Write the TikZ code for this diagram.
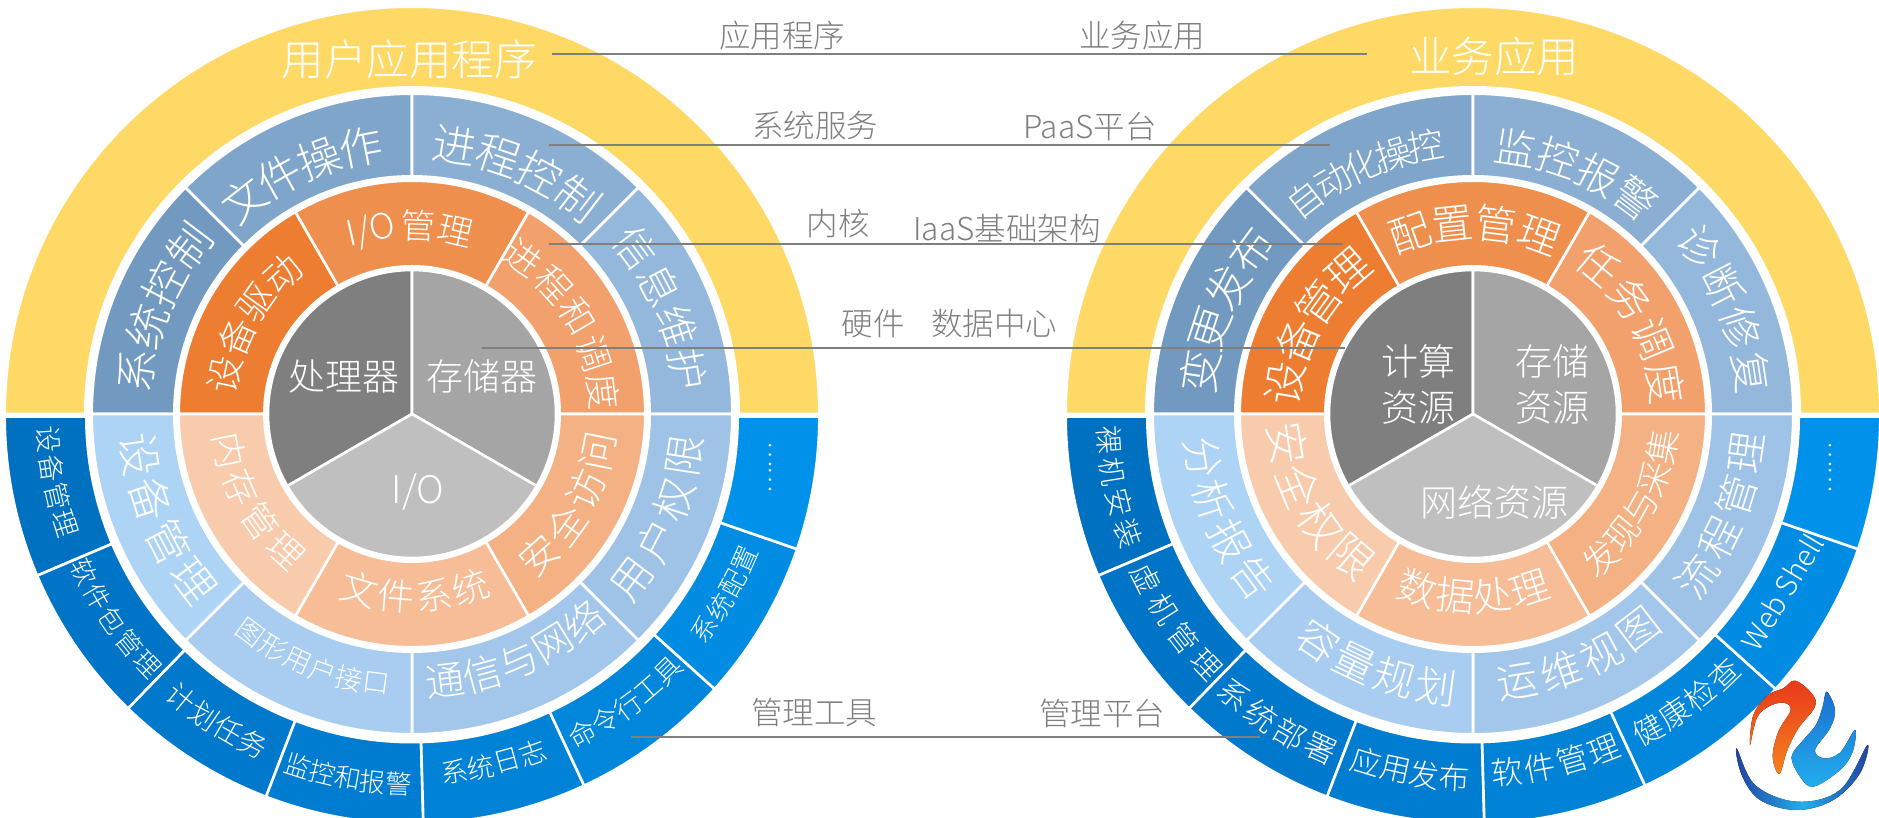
\documentclass[tikz,border=0pt]{standalone}
\usepackage{fontspec}
\IfFontExistsTF{Noto Sans CJK SC Light}{\setmainfont{Noto Sans CJK SC Light}}{\setmainfont{Noto Sans CJK SC}}
\definecolor{cyel}{HTML}{FFD966}
\definecolor{cgray}{HTML}{7F7F7F}
\newcount\chcnt
\tikzset{
  segfill/.style={line width=2.6pt,draw=white,line join=round},
  chnode/.style={text=white,inner sep=0pt,anchor=center},
  flat/.style={text=white,inner sep=0pt,anchor=center},
  graylab/.style={text=cgray,inner sep=0pt,anchor=center,font=\fontsize{31.5}{32}\selectfont},
  bar/.style={draw=cgray,line width=2.6pt}
}
% sector: colour, a1, a2, r1, r2 (visible radii)
\newcommand\wedgeseg[5]{%
  \pgfmathsetmacro\ro{#5+1.3}\pgfmathsetmacro\ri{#4-1.3}%
  \path[segfill,fill=#1] (#2:\ro pt) arc[start angle=#2,end angle=#3,radius=\ro pt]
    -- (#3:\ri pt) arc[start angle=#3,end angle=#2,radius=\ri pt] -- cycle;}
\newcommand\coreseg[3]{%
  \path[segfill,fill=#1] (0,0) -- (#2:144pt) arc[start angle=#2,end angle=#3,radius=144pt] -- cycle;}
% text following the arc: mid angle, step, radius, size, count, characters
\newcommand\arctop[6]{%
  \pgfmathsetmacro\fs{#4*1.09}%
  \foreach \c [count=\i] in {#6}{%
    \pgfmathsetmacro\a{#1-(\i-(#5+1)/2)*#2}\pgfmathsetmacro\b{\a-90}%
    \global\advance\chcnt by 1
    \node[chnode,rotate=\b,name=ch\the\chcnt] at (\a:#3pt) {\fontsize{\fs}{\fs}\selectfont\c};}}
\newcommand\arcbot[6]{%
  \pgfmathsetmacro\fs{#4*1.09}%
  \foreach \c [count=\i] in {#6}{%
    \pgfmathsetmacro\a{#1+(\i-(#5+1)/2)*#2}\pgfmathsetmacro\b{\a+90}%
    \global\advance\chcnt by 1
    \node[chnode,rotate=\b,name=ch\the\chcnt] at (\a:#3pt) {\fontsize{\fs}{\fs}\selectfont\c};}}
\newcommand\drawrings{%
  \wedgeseg{cyel}{180}{0}{328}{406}
  \wedgeseg{cB1}{180}{135}{239}{319}
  \wedgeseg{cB2}{135}{90}{239}{319}
  \wedgeseg{cB3}{90}{45}{239}{319}
  \wedgeseg{cB4}{45}{0}{239}{319}
  \wedgeseg{cB5}{0}{-45}{239}{319}
  \wedgeseg{cB6}{-45}{-90}{239}{319}
  \wedgeseg{cB7}{-90}{-135}{239}{319}
  \wedgeseg{cB8}{-135}{-180}{239}{319}
  \wedgeseg{cO1}{180}{120}{149}{232}
  \wedgeseg{cO2}{120}{60}{149}{232}
  \wedgeseg{cO3}{60}{0}{149}{232}
  \wedgeseg{cO4}{0}{-60}{149}{232}
  \wedgeseg{cO5}{-60}{-120}{149}{232}
  \wedgeseg{cO6}{-120}{-180}{149}{232}
  \coreseg{cgray}{90}{210}
  \coreseg{cC2}{-30}{90}
  \coreseg{cC3}{210}{330}
  \begin{scope}[yshift=-2.5pt]
  \wedgeseg{cD1}{180}{203}{327}{406}
  \wedgeseg{cD2}{203}{225.8}{327}{406}
  \wedgeseg{cD3}{225.8}{249}{327}{406}
  \wedgeseg{cD4}{249}{271.6}{327}{406}
  \wedgeseg{cD5}{271.6}{295}{327}{406}
  \wedgeseg{cD6}{295}{318}{327}{406}
  \wedgeseg{cD7}{318}{341}{327}{406}
  \wedgeseg{cD8}{341}{360}{327}{406}
  \end{scope}}
\definecolor{cB1}{HTML}{7299BF}\definecolor{cB2}{HTML}{7FA6CA}
\definecolor{cB3}{HTML}{8AAFD3}\definecolor{cB4}{HTML}{94B8DC}
\definecolor{cB5}{HTML}{9FC3E6}\definecolor{cB6}{HTML}{A3C7EA}
\definecolor{cB7}{HTML}{A8CDF0}\definecolor{cB8}{HTML}{ADD3F5}
\definecolor{cO1}{HTML}{ED7D31}\definecolor{cO2}{HTML}{EF8F4E}
\definecolor{cO3}{HTML}{F2A16D}\definecolor{cO4}{HTML}{F4B183}
\definecolor{cO5}{HTML}{F6BD97}\definecolor{cO6}{HTML}{F8CBAD}
\definecolor{cC2}{HTML}{A5A5A5}\definecolor{cC3}{HTML}{BFBFBF}
\definecolor{cD1}{HTML}{0070C0}\definecolor{cD2}{HTML}{0074C6}
\definecolor{cD3}{HTML}{0078CB}\definecolor{cD4}{HTML}{007DD1}
\definecolor{cD5}{HTML}{0082D6}\definecolor{cD6}{HTML}{0087DC}
\definecolor{cD7}{HTML}{008CE3}\definecolor{cD8}{HTML}{0092EA}
\definecolor{lgA}{HTML}{E8391A}\definecolor{lgB}{HTML}{F5841F}
\definecolor{lgC}{HTML}{1B6FCF}\definecolor{lgD}{HTML}{22AEEE}\definecolor{lgE}{HTML}{23409F}
\begin{document}
\begin{tikzpicture}[x=1pt,y=1pt]
\useasboundingbox (0,0) rectangle (1879,-818);
% ---------- left chart
\begin{scope}[shift={(412,-414)}]
  \drawrings
  \arctop{157}{9.4}{279}{40}{4}{系,统,控,制}
  \arctop{114.5}{9.1}{272}{40}{4}{文,件,操,作}
  \arctop{66.7}{9.5}{272}{40}{4}{进,程,控,制}
  \arctop{22.9}{9.2}{279}{38}{4}{信,息,维,护}
  \arcbot{-22.75}{9.4}{276}{38}{4}{用,户,权,限}
  \arcbot{-66.6}{8.2}{269}{36}{5}{通,信,与,网,络}
  \arcbot{248}{5.76}{272}{25}{6}{图,形,用,户,接,口}
  \arcbot{202.9}{9.6}{275}{40}{4}{设,备,管,理}
  \arctop{150.4}{11.8}{191}{34}{4}{设,备,驱,动}
  \node[chnode,rotate=12.6,name=lio] at (102.6:188pt) {\fontsize{35}{35}\selectfont I/O};
  \arctop{82.4}{11.3}{188.5}{32}{2}{管,理}
  \arctop{30.5}{12}{192}{33}{5}{进,程,和,调,度}
  \arcbot{-29.7}{12.2}{190}{36}{4}{安,全,访,问}
  \arcbot{-89}{11.8}{183}{34}{4}{文,件,系,统}
  \arcbot{209.2}{12}{186}{33}{4}{内,存,管,理}
  \arcbot{190.8}{4.5}{364}{25}{4}{设,备,管,理}
  \arcbot{214.6}{4.4}{364}{24}{5}{软,件,包,管,理}
  \arcbot{237.6}{4.4}{366}{26}{4}{计,划,任,务}
  \arcbot{260}{3.95}{370}{24}{5}{监,控,和,报,警}
  \arcbot{-76.8}{4.3}{360}{25}{4}{系,统,日,志}
  \arcbot{-53.5}{4.2}{363}{25}{5}{命,令,行,工,具}
  \arcbot{-30}{4.2}{363}{24}{4}{系,统,配,置}
\end{scope}
\node[flat,name=ltitle] at (409,-59) {\fontsize{42.5}{43}\selectfont 用户应用程序};
\node[flat,name=lc1] at (344,-376) {\fontsize{37}{37}\selectfont 处理器};
\node[flat,name=lc2] at (482,-376) {\fontsize{37}{37}\selectfont 存储器};
\node[flat,name=lc3] at (418,-492) {\fontsize{38}{38}\selectfont I/O};
\node[flat,rotate=90,name=ldots] at (770,-468) {\fontsize{25}{25}\selectfont ……};
% ---------- right chart
\begin{scope}[shift={(1473,-414)}]
  \drawrings
  \arctop{114}{7}{272}{33}{5}{自,动,化,操,控}
  \arctop{67}{9.3}{270}{38}{4}{监,控,报,警}
  \arctop{22.5}{9.3}{281}{38}{4}{诊,断,修,复}
  \arctop{157.4}{9.2}{276}{40}{4}{变,更,发,布}
  \arctop{89.5}{13.1}{191}{38}{4}{配,置,管,理}
  \arctop{150.8}{13.2}{190}{40}{4}{设,备,管,理}
  \arctop{29.5}{13.7}{195}{38}{4}{任,务,调,度}
  \arcbot{-29.2}{9.6}{192}{32}{5}{发,现,与,采,集}
  \arcbot{-89.75}{11.8}{183}{36}{4}{数,据,处,理}
  \arcbot{209.2}{13.5}{188}{40}{4}{安,全,权,限}
  \arcbot{-22}{9.3}{276}{38}{4}{流,程,管,理}
  \arcbot{-66.5}{9.4}{272}{38}{4}{运,维,视,图}
  \arcbot{249}{8.8}{275}{38}{4}{容,量,规,划}
  \arcbot{203}{9.2}{274}{38}{4}{分,析,报,告}
  \arcbot{191.6}{5}{365}{26}{4}{裸,机,安,装}
  \arcbot{215}{5.5}{366}{27}{4}{虚,机,管,理}
  \arcbot{237.6}{5.3}{368}{29}{4}{系,统,部,署}
  \arcbot{260}{4.7}{364}{28}{4}{应,用,发,布}
  \arcbot{-76.6}{5.3}{360}{29}{4}{软,件,管,理}
  \arcbot{-53.5}{5}{361}{28}{4}{健,康,检,查}
\end{scope}
\node[flat,name=rtitle] at (1494,-56) {\fontsize{42.5}{43}\selectfont 业务应用};
\node[flat,name=rc1a] at (1418,-361) {\fontsize{37}{37}\selectfont 计算};
\node[flat,name=rc1b] at (1418,-407) {\fontsize{37}{37}\selectfont 资源};
\node[flat,name=rc2a] at (1552,-361) {\fontsize{37}{37}\selectfont 存储};
\node[flat,name=rc2b] at (1552,-407) {\fontsize{37}{37}\selectfont 资源};
\node[flat,name=rc3] at (1494,-502) {\fontsize{37}{37}\selectfont 网络资源};
\node[flat,rotate=59,name=rweb] at (1782,-592) {\fontsize{29}{29}\selectfont Web Shell};
\node[flat,rotate=90,name=rdots] at (1830,-468) {\fontsize{25}{25}\selectfont ……};
% ---------- connectors
\coordinate (a1) at (552,-54);  \coordinate (b1) at (1367,-54);
\coordinate (a2) at (549,-145); \coordinate (b2) at (1330,-145);
\coordinate (a3) at (549,-244); \coordinate (b3) at (1343,-244);
\coordinate (a4) at (482,-348); \coordinate (b4) at (1345,-348);
\coordinate (a5) at (631,-737); \coordinate (b5) at (1260,-737);
\draw[bar] (a1) -- (b1);
\draw[bar] (a2) -- (b2);
\draw[bar] (a3) -- (b3);
\draw[bar] (a4) -- (b4);
\draw[bar] (a5) -- (b5);
\node[graylab,name=g1] at (782,-36) {应用程序};
\node[graylab,name=g2] at (1142,-36) {业务应用};
\node[graylab,name=g3] at (815,-126) {系统服务};
\node[graylab,name=g4] at (1090,-127) {PaaS平台};
\node[graylab,name=g5] at (838,-224) {内核};
\node[graylab,name=g6] at (1007,-229) {IaaS基础架构};
\node[graylab,name=g7] at (873,-324) {硬件};
\node[graylab,name=g8] at (994,-324) {数据中心};
\node[graylab,name=g9] at (814,-713) {管理工具};
\node[graylab,name=g10] at (1102,-713) {管理平台};
% ---------- logo
\begin{scope}[shift={(1700,-660)},x=0.3333pt,y=-0.3333pt]
  \fill[top color=lgA,bottom color=lgB,draw=none]
    plot[smooth cycle,tension=0.6] coordinates {(285,62)(335,100)(345,140)(295,205)(262,270)(238,342)(218,290)(235,215)(272,150)(250,128)(205,140)(170,175)(150,255)(160,165)(205,105)(250,85)};
  \fill[top color=lgC,bottom color=lgD,draw=none]
    plot[smooth cycle,tension=0.6] coordinates {(380,95)(405,150)(390,205)(345,270)(372,295)(420,278)(465,210)(458,275)(420,330)(340,380)(300,350)(275,290)(310,240)(348,195)(368,140)};
  \fill[left color=lgE,right color=lgE,middle color=lgD,draw=none]
    plot[smooth cycle,tension=0.6] coordinates {(110,265)(165,375)(290,425)(420,390)(502,255)(480,340)(400,420)(290,450)(180,420)(125,345)};
\end{scope}
\end{tikzpicture}
\end{document}
